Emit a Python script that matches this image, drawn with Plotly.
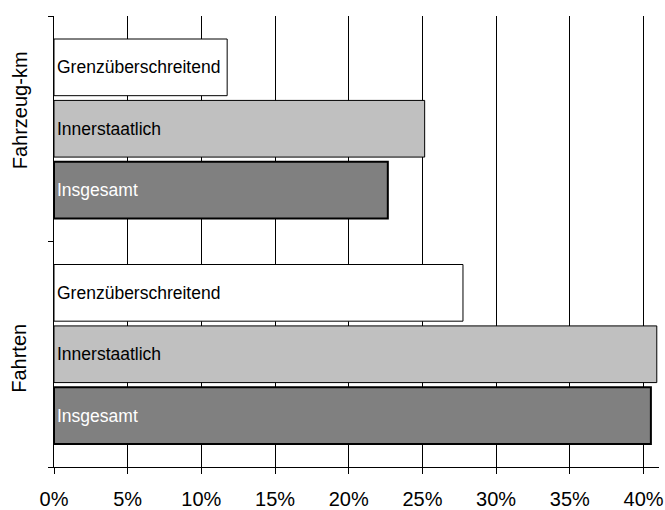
import plotly.graph_objects as go

# Category groups (bottom to top) and bar series (bottom to top inside a group)
groups = ["Fahrten", "Fahrzeug-km"]
insgesamt = [40.5, 22.65]
innerstaatlich = [40.9, 25.15]
grenzueberschreitend = [27.75, 11.75]
x_tick_values = [0, 5, 10, 15, 20, 25, 30, 35, 40]
x_tick_labels = ["0%", "5%", "10%", "15%", "20%", "25%", "30%", "35%", "40%"]

FONT = "Arial, Liberation Sans, sans-serif"

series = [
    ("Insgesamt", insgesamt, "#808080", 2, "white"),
    ("Innerstaatlich", innerstaatlich, "#C0C0C0", 1, "black"),
    ("Grenzüberschreitend", grenzueberschreitend, "#FFFFFF", 1, "black"),
]

fig = go.Figure()
for name, vals, color, lw, tcolor in series:
    fig.add_trace(go.Bar(
        name=name,
        x=vals,
        y=groups,
        orientation="h",
        marker=dict(color=color, line=dict(color="black", width=lw)),
        text=[name] * len(vals),
        textposition="inside",
        insidetextanchor="start",
        constraintext="none",
        textfont=dict(family=FONT, size=17.5, color=tcolor),
        hoverinfo="x+y",
    ))

# Group labels, rotated along the value axis side
label_shift = {"Fahrzeug-km": 18, "Fahrten": -4}
for g in groups:
    fig.add_annotation(
        x=-0.057, xref="paper", xanchor="center",
        y=g, yref="y", yanchor="middle", yshift=label_shift[g],
        text=g, textangle=-90, showarrow=False,
        font=dict(family=FONT, size=20, color="black"),
    )

fig.update_layout(
    width=665, height=510,
    margin=dict(l=54, r=6, t=16, b=43, autoexpand=False),
    paper_bgcolor="white", plot_bgcolor="white",
    barmode="group", bargap=0.183, bargroupgap=0.077,
    showlegend=False,
    font=dict(family=FONT, color="black"),
)
fig.update_xaxes(
    range=[0, 41.05],
    tickvals=x_tick_values, ticktext=x_tick_labels,
    showgrid=True, gridcolor="black", gridwidth=1,
    zeroline=False,
    showline=True, linecolor="black", linewidth=1,
    ticks="outside", ticklen=6, tickcolor="black",
    ticklabelstandoff=8,
    tickfont=dict(family=FONT, size=20, color="black"),
    automargin=False,
)
fig.update_yaxes(
    type="category", categoryorder="array", categoryarray=groups,
    range=[-0.5, 1.5],
    showgrid=False, zeroline=False,
    showline=True, linecolor="black", linewidth=1,
    ticks="outside", ticklen=5, tickcolor="black", tickson="boundaries",
    showticklabels=False, automargin=False,
)

fig.write_html("out.html")
